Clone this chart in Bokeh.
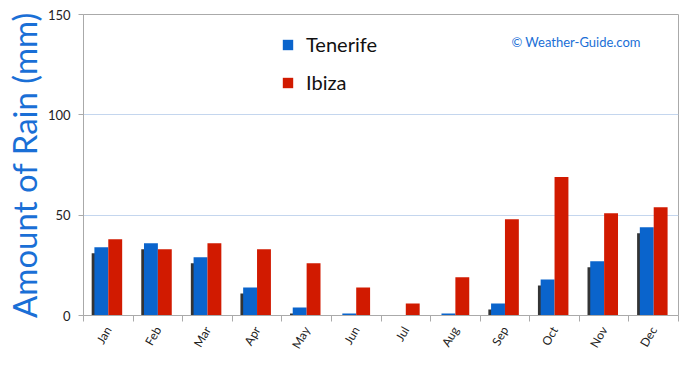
import numpy as np
from bokeh.plotting import figure
from bokeh.models import (ColumnDataSource, FixedTicker, Legend, LegendItem, Label, Range1d)
from bokeh.transform import dodge
from bokeh.embed import file_html
from bokeh.resources import INLINE

months = ["Jan", "Feb", "Mar", "Apr", "May", "Jun", "Jul", "Aug", "Sep", "Oct", "Nov", "Dec"]
tenerife = [34, 36, 29, 14, 4, 1, 0, 1, 6, 18, 27, 44]
ibiza = [38, 33, 36, 33, 26, 14, 6, 19, 48, 69, 51, 54]
y_ticks = [0, 50, 100, 150]

BLUE = "#0a64cc"
RED = "#d11a00"

xs = np.arange(len(months)) + 0.5
src = ColumnDataSource(dict(
    x=xs, tenerife=tenerife, ibiza=ibiza,
    ten_sh=[max(v - 3, 0) for v in tenerife],
))

p = figure(width=690, height=365, output_backend="svg", toolbar_location=None,
           x_range=Range1d(0, 12), y_range=Range1d(0, 150),
           min_border_left=82, min_border_right=12, min_border_top=14, min_border_bottom=50)

# shadow (left of each group)
p.vbar(x=dodge("x", -0.14 - 0.055), top="ten_sh", width=0.28, source=src,
       fill_color="#111111", fill_alpha=0.85, line_color=None)

r1 = p.vbar(x=dodge("x", -0.14), top="tenerife", width=0.28, source=src,
            fill_color=BLUE, line_color=None)
r2 = p.vbar(x=dodge("x", 0.14), top="ibiza", width=0.28, source=src,
            fill_color=RED, line_color=None)

# axes
p.xaxis.ticker = FixedTicker(ticks=list(xs), minor_ticks=list(range(len(months) + 1)))
p.xaxis.major_label_overrides = {float(x): m for x, m in zip(xs, months)}
p.xaxis.major_tick_line_color = None
p.xaxis.minor_tick_line_color = "#aaaaaa"
p.xaxis.minor_tick_out = 6
p.xaxis.minor_tick_in = 0
p.xaxis.major_label_orientation = np.pi / 3
p.xaxis.major_label_text_font = "Lato"
p.xaxis.major_label_text_font_size = "12px"
p.xaxis.major_label_text_color = "#222222"
p.xaxis.axis_line_color = "#aaaaaa"
p.xaxis.major_label_standoff = 6

p.yaxis.ticker = FixedTicker(ticks=y_ticks, minor_ticks=[])
p.yaxis.major_tick_out = 5
p.yaxis.major_tick_in = 0
p.yaxis.major_tick_line_color = "#aaaaaa"
p.yaxis.axis_line_color = "#aaaaaa"
p.yaxis.major_label_text_font = "Lato"
p.yaxis.major_label_text_font_size = "13px"
p.yaxis.major_label_text_color = "#222222"
p.yaxis.major_label_standoff = 8
p.yaxis.axis_label = "Amount of Rain (mm)"
p.yaxis.axis_label_text_font = "Lato"
p.yaxis.axis_label_text_font_style = "normal"
p.yaxis.axis_label_text_font_size = "33px"
p.yaxis.axis_label_text_color = "#1a6fd6"
p.yaxis.axis_label_standoff = 1

p.xgrid.grid_line_color = None
p.ygrid.grid_line_color = "#c4d6ee"
p.outline_line_color = "#aaaaaa"

legend = Legend(items=[LegendItem(label="Tenerife", renderers=[r1]),
                       LegendItem(label="Ibiza", renderers=[r2])],
                location=(198, 221), orientation="vertical",
                glyph_width=13, glyph_height=13, label_standoff=12,
                label_text_font="Lato", label_text_font_size="20px",
                label_text_color="#111111", spacing=14, padding=0, margin=0,
                border_line_color=None, background_fill_alpha=0)
p.add_layout(legend)

p.add_layout(Label(x=8.63, y=136.5, text="© Weather-Guide.com", text_font="Lato",
                   text_font_size="13px", text_color="#1a6fd6", text_baseline="middle"))

open("out.html", "w").write(file_html(p, INLINE))
